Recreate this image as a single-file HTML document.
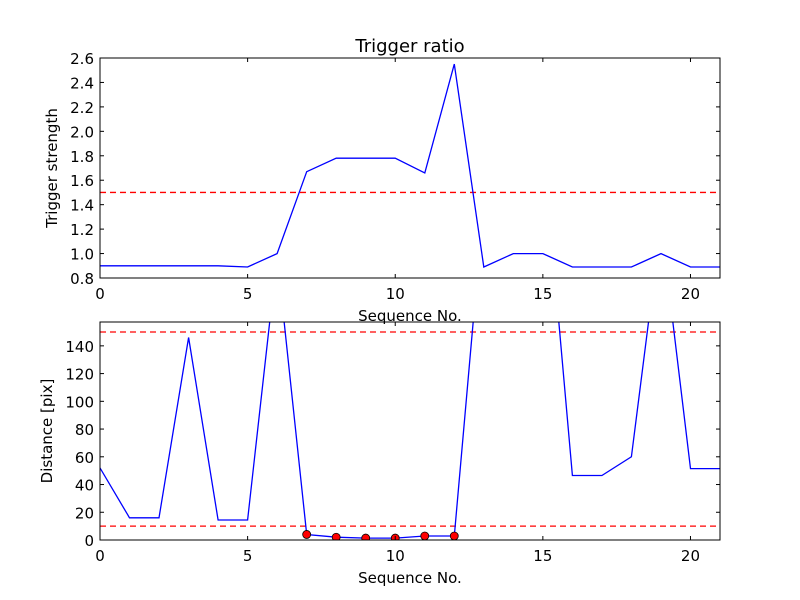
<!DOCTYPE html>
<html><head><meta charset="utf-8"><style>
body{margin:0;background:#fff}
svg{display:block;font-family:"DejaVu Sans","Liberation Sans",sans-serif}
</style></head><body>
<svg id="chart" width="800" height="600"></svg>
<script>
const seq=[0,1,2,3,4,5,6,7,8,9,10,11,12,13,14,15,16,17,18,19,20,21];
const strength=[0.9,0.9,0.9,0.9,0.9,0.89,1.0,1.67,1.78,1.78,1.78,1.66,2.55,0.89,1.0,1.0,0.89,0.89,0.89,1.0,0.89,0.89];
const distance=[52,16,16,146,14.4,14.4,205,4,2,1.4,1.4,2.9,2.9,244,280,287,46.5,46.5,60,228,51.5,51.5];
const dotSeq=[7,8,9,10,11,12];
const dotDist=[4,2,1.4,1.4,2.9,2.9];
const xTicks=[0,5,10,15,20];
const yTicksTop=[0.8,1.0,1.2,1.4,1.6,1.8,2.0,2.2,2.4,2.6];
const yTicksBot=[0,20,40,60,80,100,120,140];
const thrTop=[1.5];
const thrBot=[10,150];

const NS="http://www.w3.org/2000/svg";
const svg=document.getElementById('chart');
function mk(t,a,p){const e=document.createElementNS(NS,t);for(const k in a)e.setAttribute(k,a[k]);(p||svg).appendChild(e);return e;}

function panel(name,top,bottom,ymin,ymax,yticks,fmt,ylabel,xs,ys,thr,title,dotsX,dotsY){
  const L=100,R=720;
  const sx=v=>L+(v-0)/(21-0)*(R-L);
  const sy=v=>bottom-(v-ymin)/(ymax-ymin)*(bottom-top);
  const g=mk('g',{});
  
  
  const defs=mk('clipPath',{id:name+'-clip'},g);
  mk('rect',{x:L,y:top,width:R-L,height:bottom-top},defs);
  const inner=mk('g',{'clip-path':'url(#'+name+'-clip)'},g);
  thr.forEach(t=>{
    const l=mk('line',{x1:L,x2:R,y1:sy(t),y2:sy(t),stroke:'#ff0000','stroke-width':1.3,'stroke-dasharray':'6,4'},inner);
    
    
  });
  const pts=xs.map((x,i)=>sx(x).toFixed(1)+','+sy(ys[i]).toFixed(1)).join(' ');
  const pl=mk('polyline',{points:pts,fill:'none',stroke:'#0000ff','stroke-width':1.3},inner);
  
  
  if(dotsX){dotsX.forEach((x,i)=>{
    const c=mk('circle',{cx:sx(x),cy:sy(dotsY[i]),r:4,fill:'#ff0000',stroke:'#000','stroke-width':0.8},inner);
    
    
  });}
  const fr=mk('rect',{x:L,y:top,width:R-L,height:bottom-top,fill:'none',stroke:'#000','stroke-width':1},g);
  
  
  xTicks.forEach(t=>{
    const x=sx(t);
    mk('line',{x1:x,x2:x,y1:bottom,y2:bottom-4,stroke:'#000'},g);
    mk('line',{x1:x,x2:x,y1:top,y2:top+4,stroke:'#000'},g);
    const tx=mk('text',{x:x,y:bottom+21,'text-anchor':'middle','font-size':15},g);
    tx.textContent=t;
    
    
  });
  yticks.forEach(t=>{
    const y=sy(t);
    mk('line',{x1:L,x2:L+4,y1:y,y2:y,stroke:'#000'},g);
    mk('line',{x1:R,x2:R-4,y1:y,y2:y,stroke:'#000'},g);
    const tx=mk('text',{x:L-6,y:y+6,'text-anchor':'end','font-size':15},g);
    tx.textContent=fmt(t);
    
    
  });
  const xl=mk('text',{x:(L+R)/2,y:bottom+43,'text-anchor':'middle','font-size':15},g);
  xl.textContent='Sequence No.';
  
  
  const cy=(top+bottom)/2;
  const yl=mk('text',{x:0,y:0,'text-anchor':'middle','font-size':15,transform:'translate('+(name==='top'?57:52)+','+cy+') rotate(-90)'},g);
  yl.textContent=ylabel;
  
  
  if(title){
    const tt=mk('text',{x:(L+R)/2,y:top-6,'text-anchor':'middle','font-size':18},g);
    tt.textContent=title;
    
    
  }
}
panel('top',58,278,0.8,2.6,yTicksTop,v=>v.toFixed(1),'Trigger strength',seq,strength,thrTop,'Trigger ratio');
panel('bottom',322,540,0,157.2,yTicksBot,v=>String(v),'Distance [pix]',seq,distance,thrBot,null,dotSeq,dotDist);
</script>
</body></html>
